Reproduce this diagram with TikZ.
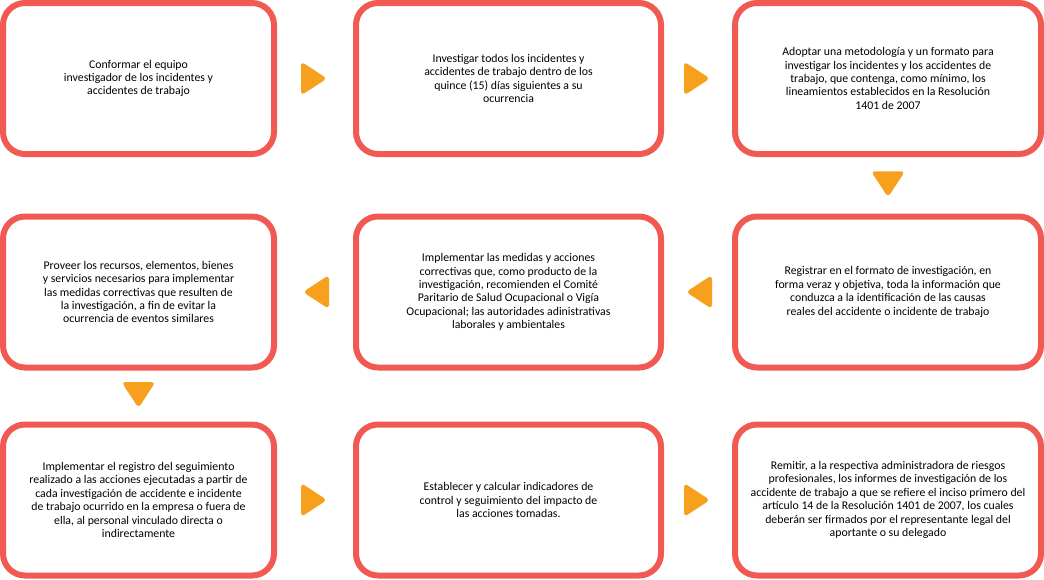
\documentclass[tikz,border=0pt]{standalone}
\usepackage{fontspec}
\setmainfont{Carlito}
\usepackage{tikz}
\usetikzlibrary{calc}

\definecolor{boxred}{HTML}{F15A53}
\definecolor{tiporange}{HTML}{F7A01E}

\tikzset{
  box/.style={draw=boxred, line width=6pt, rounded corners=22pt, fill=white,
    align=center, minimum height=151pt, inner sep=0pt,
    font=\fontsize{11.8}{13.4}\selectfont},
  tip/.style={fill=tiporange, rounded corners=4pt}
}

% orange triangle between two boxes
\newcommand{\steptip}[2]{\fill[tip, shift={(#1)}, rotate=#2] (-14,17) -- (12,0) -- (-14,-17) -- cycle;}

\begin{document}
\begin{tikzpicture}[x=1pt,y=1pt]
\useasboundingbox (0,0) rectangle (1044,-579);

\node[box, minimum width=271pt] (b1) at (138.5,-78.5) {Conformar el equipo\\investigador de los incidentes y\\accidentes de trabajo};
\node[box, minimum width=305pt] (b2) at (508.5,-78.5) {Investigar todos los incidentes y\\accidentes de trabajo dentro de los\\quince (15) días siguientes a su\\ocurrencia};
\node[box, minimum width=306pt] (b3) at (888,-78.5) {Adoptar una metodología y un formato para\\investigar los incidentes y los accidentes de\\trabajo, que contenga, como mínimo, los\\lineamientos establecidos en la Resolución\\1401 de 2007};

\node[box, minimum width=271pt] (b4) at (138.5,-292) {Proveer los recursos, elementos, bienes\\y servicios necesarios para implementar\\las medidas correctivas que resulten de\\la investigación, a fin de evitar la\\ocurrencia de eventos similares};
\node[box, minimum width=305pt] (b5) at (508.5,-292) {Implementar las medidas y acciones\\correctivas que, como producto de la\\investigación, recomienden el Comité\\Paritario de Salud Ocupacional o Vigía\\Ocupacional; las autoridades adinistrativas\\laborales y ambientales};
\node[box, minimum width=306pt] (b6) at (888,-292) {Registrar en el formato de investigación, en\\forma veraz y objetiva, toda la información que\\conduzca a la identificación de las causas\\reales del accidente o incidente de trabajo};

\node[box, minimum width=271pt] (b7) at (138.5,-500) {Implementar el registro del seguimiento\\realizado a las acciones ejecutadas a partir de\\cada investigación de accidente e incidente\\de trabajo ocurrido en la empresa o fuera de\\ella, al personal vinculado directa o\\indirectamente};
\node[box, minimum width=305pt] (b8) at (508.5,-500) {Establecer y calcular indicadores de\\control y seguimiento del impacto de\\las acciones tomadas.};
\node[box, minimum width=306pt] (b9) at (888,-500) {Remitir, a la respectiva administradora de riesgos\\profesionales, los informes de investigación de los\\accidente de trabajo a que se refiere el inciso primero del\\artículo 14 de la Resolución 1401 de 2007, los cuales\\deberán ser firmados por el representante legal del\\aportante o su delegado};

\steptip{$(b1.east)!.5!(b2.west)$}{0}
\steptip{$(b2.east)!.5!(b3.west)$}{0}
\steptip{$(b3.south)!.5!(b6.north)$}{-90}
\steptip{$(b6.west)!.5!(b5.east)$}{180}
\steptip{$(b5.west)!.5!(b4.east)$}{180}
\steptip{$(b4.south)!.5!(b7.north)$}{-90}
\steptip{$(b7.east)!.5!(b8.west)$}{0}
\steptip{$(b8.east)!.5!(b9.west)$}{0}
\end{tikzpicture}
\end{document}
